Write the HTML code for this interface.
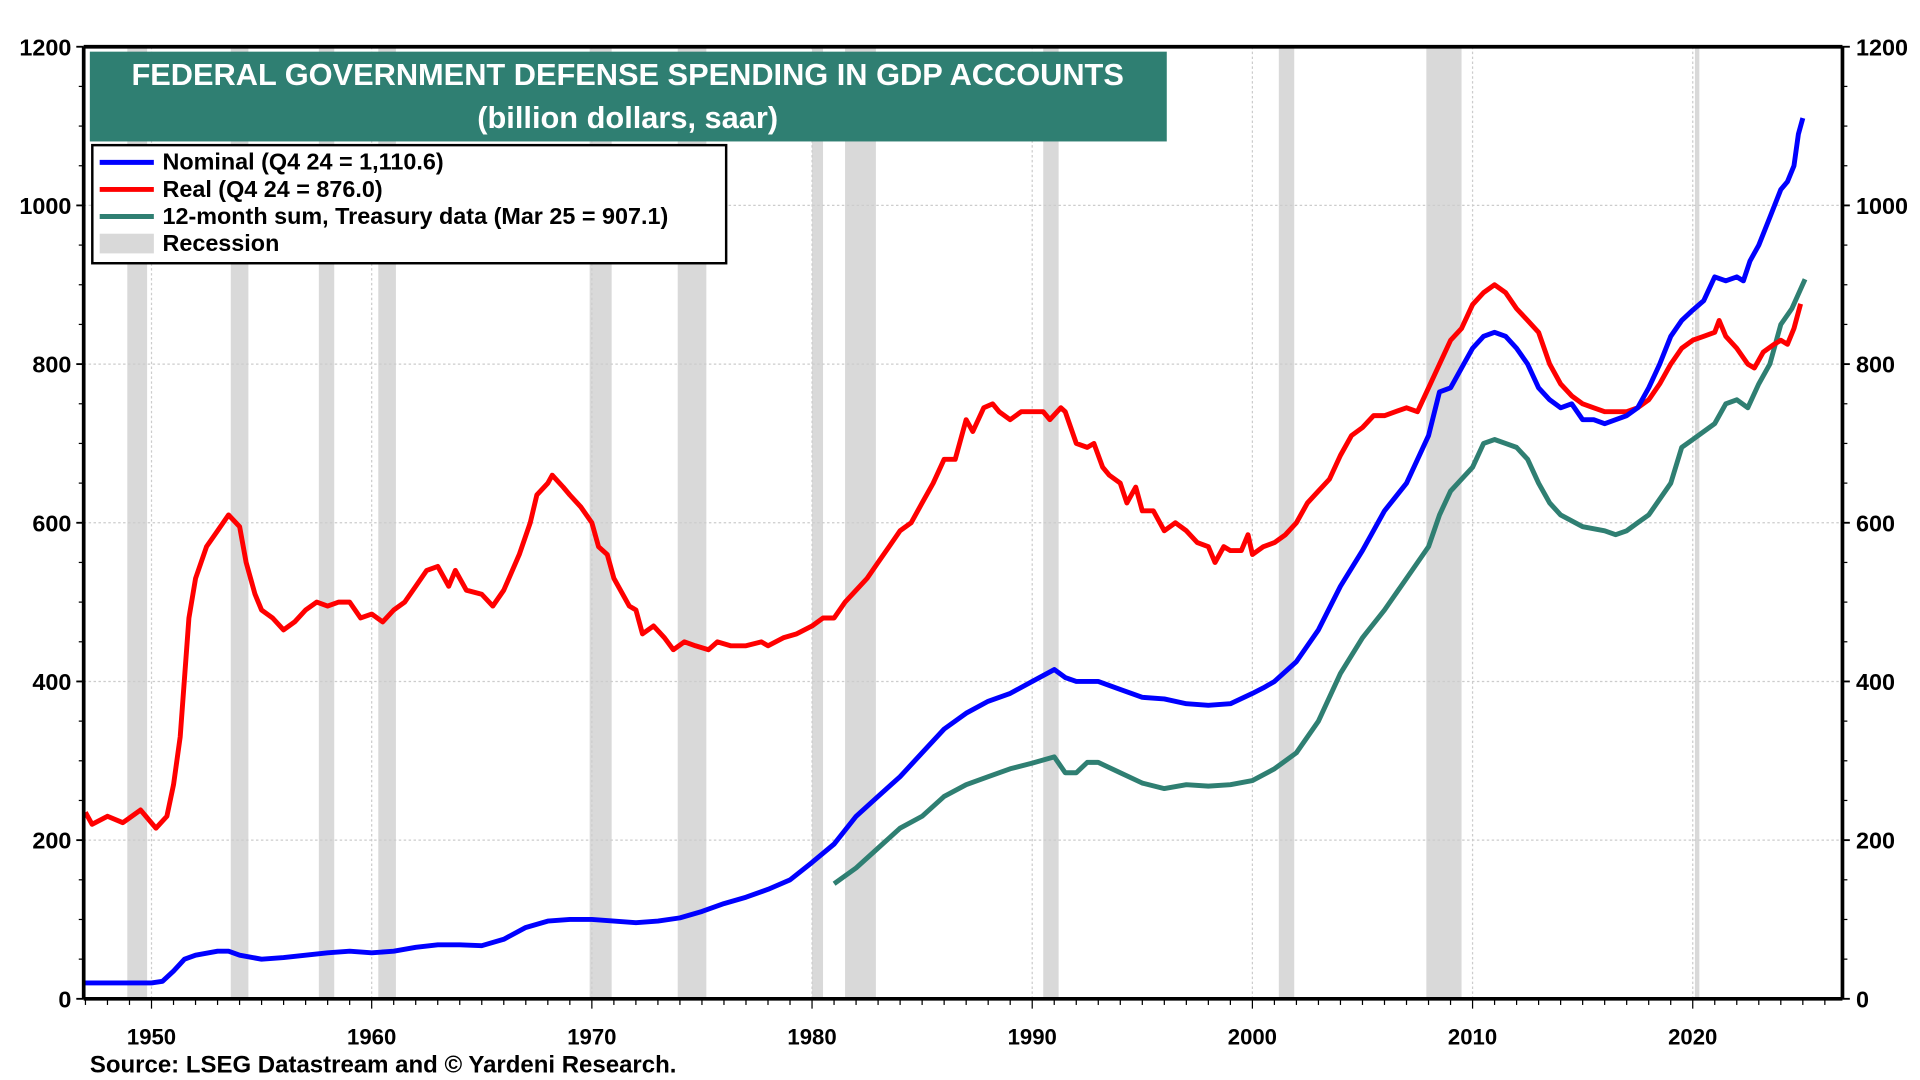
<!DOCTYPE html>
<html><head><meta charset="utf-8"><style>
html,body{margin:0;padding:0;background:#fff;}
svg{display:block;}
text{font-family:"Liberation Sans",Arial,sans-serif;font-weight:bold;}
</style></head><body>
<svg id="chart" width="1920" height="1080" viewBox="0 0 1560 878" preserveAspectRatio="none" xmlns="http://www.w3.org/2000/svg">
<g id="recessions"></g>
<g id="grid"></g>
<g id="series"></g>
<g id="axes"></g>
<g>
<rect x="73" y="42" width="875" height="73" fill="#2f7f72"/>
<text x="510" y="69" fill="#fff" font-size="25" text-anchor="middle">FEDERAL GOVERNMENT DEFENSE SPENDING IN GDP ACCOUNTS</text>
<text x="510" y="104" fill="#fff" font-size="25" text-anchor="middle">(billion dollars, saar)</text>
</g>
<g>
<rect x="75" y="118" width="515" height="96" fill="#fff" stroke="#000" stroke-width="2"/>
<g><line x1="81" y1="132" x2="125" y2="132" stroke="#0000ff" stroke-width="4"/><text x="132" y="138" font-size="19">Nominal (Q4 24 = 1,110.6)</text></g>
<g><line x1="81" y1="154" x2="125" y2="154" stroke="#ff0000" stroke-width="4"/><text x="132" y="160" font-size="19">Real (Q4 24 = 876.0)</text></g>
<g><line x1="81" y1="176" x2="125" y2="176" stroke="#2f7f72" stroke-width="4"/><text x="132" y="182" font-size="19">12-month sum, Treasury data (Mar 25 = 907.1)</text></g>
<g><rect x="81" y="190" width="44" height="16" fill="#d9d9d9"/><text x="132" y="204" font-size="19">Recession</text></g>
</g>
<text x="73" y="872" font-size="19.5">Source: LSEG Datastream and © Yardeni Research.</text>
</svg>
<script>
const recStart=[1948.9,1953.6,1957.6,1960.3,1969.9,1973.9,1980.0,1981.5,1990.5,2001.2,2007.9,2020.1];
const recEnd=[1949.8,1954.4,1958.3,1961.1,1970.9,1975.2,1980.5,1982.9,1991.2,2001.9,2009.5,2020.3];
const yTicks=[0,200,400,600,800,1000,1200];
const xTicks=[1950,1960,1970,1980,1990,2000,2010,2020];
const realYears=[1947,1947.3,1948,1948.7,1949.5,1950.2,1950.7,1951,1951.3,1951.7,1952,1952.5,1953,1953.5,1954,1954.3,1954.7,1955,1955.5,1956,1956.5,1957,1957.5,1958,1958.5,1959,1959.5,1960,1960.5,1961,1961.5,1962,1962.5,1963,1963.5,1963.8,1964.3,1965,1965.5,1966,1966.7,1967.2,1967.5,1968,1968.2,1968.7,1969,1969.5,1970,1970.3,1970.7,1971,1971.7,1972,1972.3,1972.8,1973.3,1973.7,1974.2,1974.7,1975.3,1975.7,1976.3,1977,1977.7,1978,1978.7,1979.3,1980,1980.5,1981,1981.5,1982,1982.5,1983,1983.5,1984,1984.5,1985,1985.5,1986,1986.5,1987,1987.3,1987.8,1988.2,1988.5,1989,1989.5,1990,1990.5,1990.8,1991.3,1991.5,1992,1992.5,1992.8,1993.2,1993.5,1994,1994.3,1994.7,1995,1995.5,1996,1996.5,1997,1997.5,1998,1998.3,1998.7,1999,1999.5,1999.8,2000,2000.5,2001,2001.5,2002,2002.5,2003,2003.5,2004,2004.5,2005,2005.5,2006,2006.5,2007,2007.5,2008,2008.5,2009,2009.5,2010,2010.5,2011,2011.5,2012,2012.5,2013,2013.5,2014,2014.5,2015,2015.5,2016,2016.5,2017,2017.5,2018,2018.5,2019,2019.5,2020,2020.5,2021,2021.2,2021.5,2022,2022.5,2022.8,2023.2,2023.7,2024,2024.3,2024.6,2024.9];
const realValues=[235,220,230,222,238,215,230,270,330,480,530,570,590,610,595,550,510,490,480,465,475,490,500,495,500,500,480,485,475,490,500,520,540,545,520,540,515,510,495,515,560,600,635,650,660,645,635,620,600,570,560,530,495,490,460,470,455,440,450,445,440,450,445,445,450,445,455,460,470,480,480,500,515,530,550,570,590,600,625,650,680,680,730,715,745,750,740,730,740,740,740,730,745,740,700,695,700,670,660,650,625,645,615,615,590,600,590,575,570,550,570,565,565,585,560,570,575,585,600,625,640,655,685,710,720,735,735,740,745,740,770,800,830,845,875,890,900,890,870,855,840,800,775,760,750,745,740,740,740,745,755,775,800,820,830,835,840,855,835,820,800,795,815,825,830,825,845,876];
const nomYears=[1947,1949,1950,1950.5,1951,1951.5,1952,1953,1953.5,1954,1955,1956,1957,1958,1959,1960,1961,1962,1963,1964,1965,1966,1967,1968,1969,1970,1971,1972,1973,1974,1975,1976,1977,1978,1979,1980,1981,1982,1983,1984,1985,1986,1987,1988,1989,1990,1991,1991.5,1992,1993,1994,1995,1996,1997,1998,1999,2000,2000.5,2001,2002,2003,2004,2005,2006,2007,2008,2008.5,2009,2009.5,2010,2010.5,2011,2011.5,2012,2012.5,2013,2013.5,2014,2014.5,2015,2015.5,2016,2016.5,2017,2017.5,2018,2018.5,2019,2019.5,2020,2020.5,2021,2021.5,2022,2022.3,2022.6,2023,2023.5,2024,2024.3,2024.6,2024.8,2025];
const nomValues=[20,20,20,22,35,50,55,60,60,55,50,52,55,58,60,58,60,65,68,68,67,75,90,98,100,100,98,96,98,102,110,120,128,138,150,172,195,230,255,280,310,340,360,375,385,400,415,405,400,400,390,380,378,372,370,372,385,392,400,425,465,520,565,615,650,710,765,770,795,820,835,840,835,820,800,770,755,745,750,730,730,725,730,735,745,770,800,835,855,868,880,910,905,910,905,930,950,985,1020,1030,1050,1090,1110];
const tsyYears=[1981,1982,1983,1984,1985,1986,1987,1988,1989,1990,1991,1991.5,1992,1992.5,1993,1994,1995,1996,1997,1998,1999,2000,2001,2002,2003,2004,2005,2006,2007,2008,2008.5,2009,2010,2010.5,2011,2011.5,2012,2012.5,2013,2013.5,2014,2015,2016,2016.5,2017,2017.5,2018,2019,2019.5,2020,2021,2021.5,2022,2022.5,2023,2023.5,2024,2024.5,2025.1];
const tsyValues=[145,165,190,215,230,255,270,280,290,297,305,285,285,298,298,285,272,265,270,268,270,275,290,310,350,410,455,490,530,570,610,640,670,700,705,700,695,680,650,625,610,595,590,585,590,600,610,650,695,705,725,750,755,745,775,800,850,870,907];

const NS='http://www.w3.org/2000/svg';
const L=68,R=1497,T=38,B=812,X0=1946.92,X1=2026.8;
const xs=y=>L+(y-X0)/(X1-X0)*(R-L);
const ys=v=>B-v/1200*(B-T);
function mk(tag,attrs,parent){const e=document.createElementNS(NS,tag);for(const k in attrs)e.setAttribute(k,attrs[k]);parent.appendChild(e);return e;}
const gRec=document.getElementById('recessions'),gGrid=document.getElementById('grid'),gS=document.getElementById('series'),gA=document.getElementById('axes');
recStart.forEach((s,i)=>{
  const r=mk('rect',{x:xs(s),y:T,width:xs(recEnd[i])-xs(s),height:B-T,fill:'#d9d9d9'},gRec);
  
  
});
yTicks.forEach(v=>{
  if(v>0&&v<1200){const g=mk('line',{x1:L,x2:R,y1:ys(v),y2:ys(v),stroke:'#ccc','stroke-width':1,'stroke-dasharray':'2,2'},gGrid);
  
  }
  const t1=mk('text',{x:L-10,y:ys(v)+7,'font-size':19,'text-anchor':'end'},gA);t1.textContent=v;
  
  
  const t2=mk('text',{x:R+11,y:ys(v)+7,'font-size':19},gA);t2.textContent=v;
  
  
  mk('line',{x1:L-6,x2:L,y1:ys(v),y2:ys(v),stroke:'#000','stroke-width':1.5},gA);
  mk('line',{x1:R,x2:R+6,y1:ys(v),y2:ys(v),stroke:'#000','stroke-width':1.5},gA);
});
for(let v=50;v<1200;v+=50){if(v%200){mk('line',{x1:L-4,x2:L,y1:ys(v),y2:ys(v),stroke:'#000'},gA);mk('line',{x1:R,x2:R+4,y1:ys(v),y2:ys(v),stroke:'#000'},gA);}}
xTicks.forEach(y=>{
  const g=mk('line',{x1:xs(y),x2:xs(y),y1:T,y2:B,stroke:'#ccc','stroke-width':1,'stroke-dasharray':'2,2'},gGrid);
  
  
  const t=mk('text',{x:xs(y),y:B+37,'font-size':18,'text-anchor':'middle'},gA);t.textContent=y;
  
  
});
for(let y=1947;y<=2026;y++){mk('line',{x1:xs(y),x2:xs(y),y1:B,y2:B+(y%10?5:8),stroke:'#000'},gA);}
function line(xsA,vs,color,name){
  const d=xsA.map((x,i)=>(i?'L':'M')+xs(x).toFixed(1)+','+ys(vs[i]).toFixed(1)).join(' ');
  const p=mk('path',{d:d,fill:'none',stroke:color,'stroke-width':4,'stroke-linejoin':'round'},gS);
  
  
}
line(tsyYears,tsyValues,'#2f7f72','treasury-line');
line(realYears,realValues,'#ff0000','real-line');
line(nomYears,nomValues,'#0000ff','nominal-line');
mk('line',{x1:L,x2:R,y1:T,y2:T,stroke:'#000','stroke-width':3},gA);
mk('line',{x1:L,x2:R,y1:B,y2:B,stroke:'#000','stroke-width':3},gA);
mk('line',{x1:L,x2:L,y1:T,y2:B,stroke:'#000','stroke-width':3},gA);
mk('line',{x1:R,x2:R,y1:T,y2:B,stroke:'#000','stroke-width':3},gA);
</script>
</body></html>
